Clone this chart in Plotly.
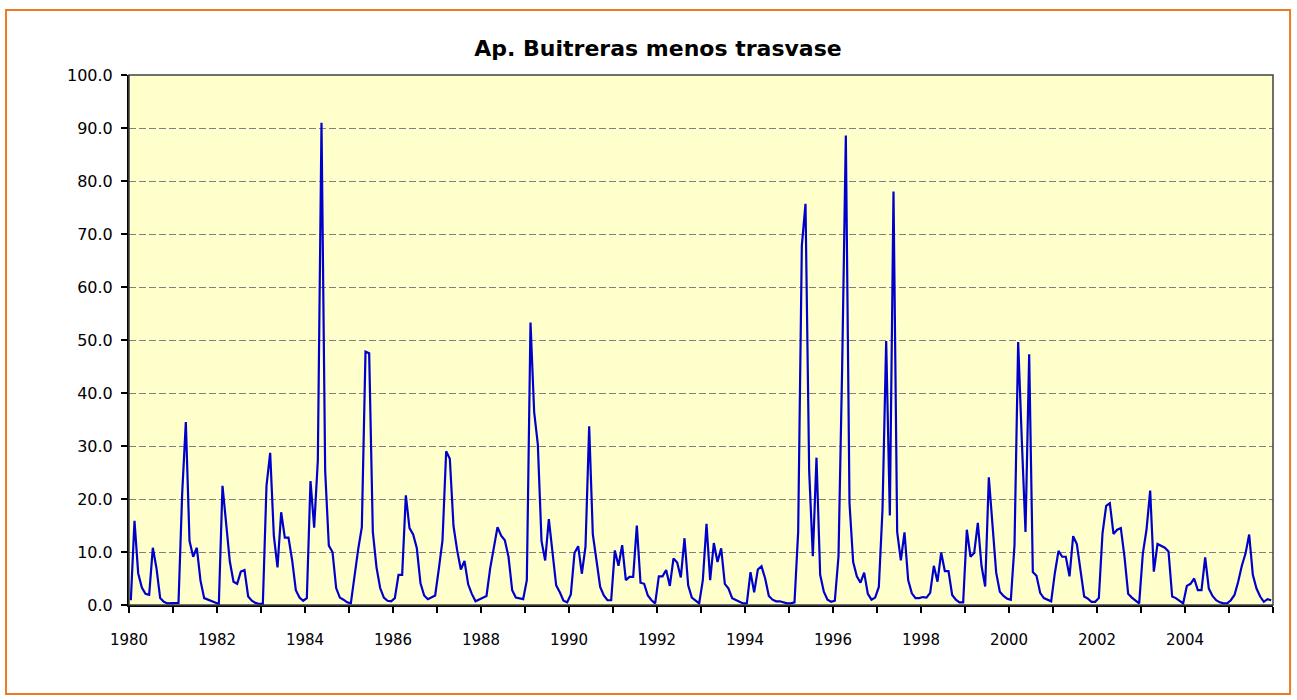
import plotly.graph_objects as go

# monthly flows, Jan 1980 - Dec 2005 (one row per year)
years = list(range(1980, 2006))
flow = [
    0.9, 15.9, 6.0, 3.3, 2.1, 1.9, 10.8, 6.9, 1.3, 0.6, 0.3, 0.3,
    0.4, 0.4, 21.0, 34.5, 12.1, 9.1, 10.8, 4.6, 1.3, 1.0, 0.7, 0.4,
    0.2, 22.5, 15.5, 8.2, 4.4, 4.0, 6.3, 6.6, 1.6, 0.8, 0.4, 0.2,
    0.2, 22.5, 28.7, 13.1, 7.1, 17.5, 12.7, 12.7, 8.4, 2.8, 1.4, 0.8,
    1.3, 23.4, 14.6, 27.3, 91.0, 25.3, 11.2, 10.0, 3.2, 1.4, 1.0, 0.5,
    0.3, 5.5, 10.5, 14.7, 47.8, 47.5, 13.8, 7.1, 3.2, 1.4, 0.8, 0.7,
    1.3, 5.7, 5.7, 20.7, 14.5, 13.3, 10.7, 4.1, 1.8, 1.1, 1.4, 1.8,
    6.8, 12.2, 29.0, 27.6, 14.9, 10.3, 6.7, 8.3, 3.9, 2.1, 0.7, 1.0,
    1.3, 1.7, 6.9, 11.1, 14.7, 13.1, 12.2, 9.1, 2.8, 1.4, 1.3, 1.1,
    4.7, 53.3, 36.4, 30.3, 12.1, 8.4, 16.2, 10.0, 3.7, 2.4, 0.8, 0.5,
    2.0, 9.8, 11.1, 5.9, 11.0, 33.7, 13.3, 8.4, 3.4, 1.8, 0.9, 0.9,
    10.3, 7.4, 11.3, 4.7, 5.3, 5.3, 15.0, 4.2, 4.0, 1.8, 0.9, 0.3,
    5.4, 5.4, 6.6, 3.6, 8.8, 8.0, 5.2, 12.6, 3.7, 1.4, 0.8, 0.3,
    4.7, 15.3, 4.7, 11.7, 8.1, 10.7, 4.0, 3.1, 1.3, 0.9, 0.6, 0.3,
    0.3, 6.2, 2.4, 6.7, 7.3, 5.0, 1.7, 1.0, 0.7, 0.7, 0.5, 0.3,
    0.3, 0.5, 13.8, 67.8, 75.7, 25.3, 9.2, 27.8, 5.7, 2.5, 1.0, 0.6,
    0.8, 9.2, 45.0, 88.6, 19.2, 8.1, 5.4, 4.2, 6.1, 2.1, 1.0, 1.4,
    3.4, 18.0, 49.8, 16.9, 78.0, 13.8, 8.4, 13.7, 4.7, 2.2, 1.3, 1.3,
    1.5, 1.4, 2.3, 7.4, 4.4, 9.9, 6.4, 6.4, 1.9, 1.0, 0.5, 0.5,
    14.2, 9.1, 9.8, 15.5, 7.4, 3.5, 24.1, 15.0, 6.1, 2.5, 1.7, 1.2,
    1.0, 11.3, 49.6, 31.0, 13.8, 47.3, 6.2, 5.5, 2.3, 1.3, 1.0, 0.7,
    6.0, 10.2, 9.1, 9.1, 5.4, 13.0, 11.5, 6.4, 1.6, 1.2, 0.6, 0.6,
    1.3, 13.5, 18.7, 19.2, 13.4, 14.2, 14.5, 9.1, 2.1, 1.4, 0.8, 0.3,
    9.7, 14.2, 21.6, 6.3, 11.5, 11.2, 10.8, 10.1, 1.6, 1.3, 0.8, 0.3,
    3.6, 4.0, 5.0, 2.8, 2.8, 9.0, 3.1, 1.7, 0.9, 0.5, 0.3, 0.3,
    0.9, 1.9, 4.4, 7.4, 9.7, 13.3, 5.7, 3.1, 1.6, 0.6, 1.1, 0.9,
]

x = list(range(len(flow)))
tick_pos = [k * 12 - 0.5 for k in range(len(years) + 1)]
tick_txt = [str(1980 + k) if k % 2 == 0 and k < len(years) else "" for k in range(len(years) + 1)]

FONT = "DejaVu Sans"

fig = go.Figure()
fig.add_trace(go.Scatter(x=x, y=flow, mode="lines",
                         line=dict(color="#0000CC", width=2.2),
                         showlegend=False, hoverinfo="y"))

fig.update_layout(
    width=1297, height=700,
    margin=dict(l=129, r=24, t=75, b=95),
    paper_bgcolor="white",
    plot_bgcolor="#FFFFCC",
    font=dict(family=FONT, size=15, color="black"),
    title=dict(text="<b>Ap. Buitreras menos trasvase</b>",
               x=658 / 1297, xref="container", xanchor="center",
               y=1 - 48 / 700, yref="container", yanchor="middle",
               font=dict(family=FONT, size=22, color="black")),
    xaxis=dict(range=[-0.5, len(flow) - 0.5], tickmode="array",
               tickvals=tick_pos, ticktext=tick_txt,
               ticks="outside", ticklen=6, tickwidth=1.5, tickcolor="black",
               ticklabelstandoff=14,
               showgrid=False, zeroline=False,
               showline=True, linecolor="black", linewidth=2,
               tickfont=dict(size=15)),
    yaxis=dict(range=[0, 100], dtick=10, tickformat=".1f",
               ticks="outside", ticklen=6, tickwidth=1.5, tickcolor="black",
               ticklabelstandoff=5,
               showgrid=True, gridcolor="#808080", gridwidth=1,
               griddash="7px,3px", zeroline=False,
               showline=True, linecolor="black", linewidth=2,
               tickfont=dict(size=16)),
    shapes=[
        # plot frame (top / right)
        dict(type="rect", xref="paper", yref="paper", x0=0, y0=0, x1=1, y1=1,
             line=dict(color="#404040", width=1.5), layer="above"),
        # outer chart border
        dict(type="rect", xref="paper", yref="paper",
             x0=-0.1075, y0=-0.168, x1=1.0149, y1=1.1226,
             line=dict(color="#F07820", width=2)),
    ],
)

# page body has an 8px default margin; drop it so the chart sits at 0,0
fig.write_html("out.html", config={"displayModeBar": False},
               post_script="document.body.style.margin='0';")
